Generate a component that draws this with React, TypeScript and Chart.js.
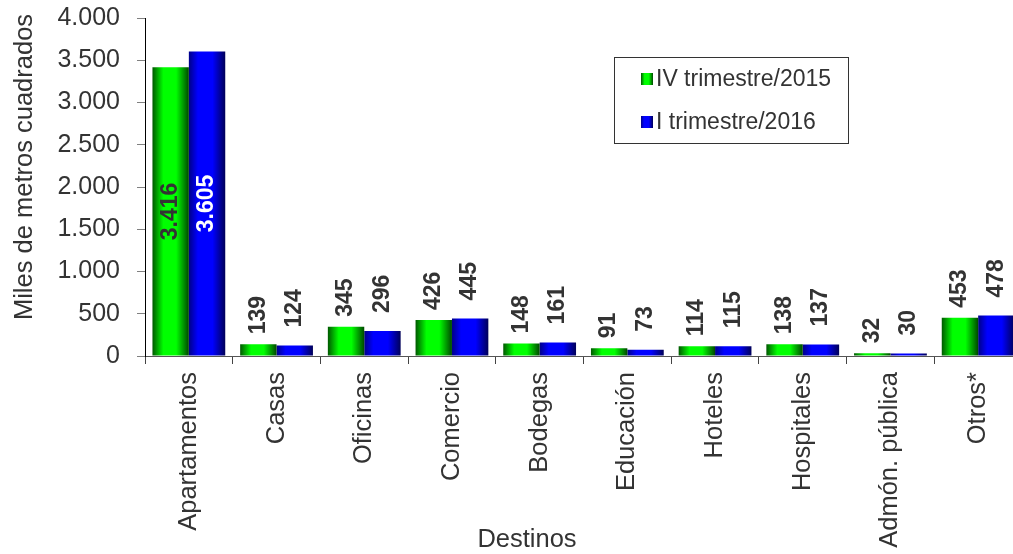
import React, { useEffect, useRef } from 'react';
import { Chart, registerables } from 'chart.js';

Chart.register(...registerables);

const categories = ['Apartamentos', 'Casas', 'Oficinas', 'Comercio', 'Bodegas', 'Educación', 'Hoteles', 'Hospitales', 'Admón. pública', 'Otros*'];
const seriesNames = ['IV trimestre/2015', 'I trimestre/2016'];
const q4_2015 = [3416, 139, 345, 426, 148, 91, 114, 138, 32, 453];
const q1_2016 = [3605, 124, 296, 445, 161, 73, 115, 137, 30, 478];
const yMin = 0;
const yMax = 4000;
const yStep = 500;
const xTitle = 'Destinos';
const yTitle = 'Miles de metros cuadrados';

const FONT = '"Liberation Sans", Arial, sans-serif';
const TEXT = '#333333';

const gradientStops: [number, string][][] = [
  [[0, '#005800'], [0.3, '#00ff00'], [0.65, '#00ff00'], [1, '#004800']],
  [[0, '#000088'], [0.25, '#0000ff'], [0.65, '#0000ff'], [1, '#000058']],
];
const baseColors = ['#00e000', '#0000e0'];
const labelGap = [10, 18];
const insideLabelColors = ['#333333', '#ffffff'];

const fmt = (v: number) => String(v).replace(/\B(?=(\d{3})+(?!\d))/g, '.');

function makeGrad(ctx: CanvasRenderingContext2D, x0: number, x1: number, ds: number) {
  const g = ctx.createLinearGradient(x0, 0, x1, 0);
  gradientStops[ds].forEach(([o, c]) => g.addColorStop(o, c));
  return g;
}

const gradientPlugin = {
  id: 'barGradient',
  beforeDatasetsDraw(chart: any) {
    const ctx = chart.ctx;
    chart.data.datasets.forEach((_: any, di: number) => {
      const meta = chart.getDatasetMeta(di);
      meta.data.forEach((el: any) => {
        const w = el.width;
        el.options.backgroundColor = makeGrad(ctx, el.x - w / 2, el.x + w / 2, di);
      });
    });
  },
};

const labelPlugin = {
  id: 'barLabels',
  afterDatasetsDraw(chart: any) {
    const ctx = chart.ctx;
    ctx.save();
    ctx.font = `bold 23px ${FONT}`;
    chart.data.datasets.forEach((ds: any, di: number) => {
      const meta = chart.getDatasetMeta(di);
      meta.data.forEach((el: any, i: number) => {
        const v = ds.data[i];
        const txt = fmt(v);
        ctx.save();
        if (v > yMax / 2) {
          ctx.translate(el.x, (el.y + el.base) / 2);
          ctx.rotate(-Math.PI / 2);
          ctx.textAlign = 'center';
          ctx.textBaseline = 'middle';
          ctx.fillStyle = insideLabelColors[di];
        } else {
          ctx.translate(el.x, el.y - labelGap[di]);
          ctx.rotate(-Math.PI / 2);
          ctx.textAlign = 'left';
          ctx.textBaseline = 'middle';
          ctx.fillStyle = TEXT;
        }
        ctx.fillText(txt, 0, 0);
        ctx.restore();
      });
    });
    ctx.restore();
  },
};

const decorPlugin = {
  id: 'decor',
  afterDraw(chart: any) {
    const ctx = chart.ctx;
    ctx.save();
    // Axis titles
    ctx.fillStyle = TEXT;
    ctx.font = `25.5px ${FONT}`;
    ctx.textAlign = 'center';
    ctx.textBaseline = 'alphabetic';
    ctx.fillText(xTitle, 527, 547);
    ctx.save();
    ctx.translate(32, 167);
    ctx.rotate(-Math.PI / 2);
    ctx.fillText(yTitle, 0, 0);
    ctx.restore();

    // Legend
    ctx.fillStyle = '#ffffff';
    ctx.fillRect(614.5, 57.5, 234, 86);
    ctx.strokeStyle = '#333333';
    ctx.lineWidth = 1;
    ctx.strokeRect(614.5, 57.5, 234, 86);
    const rows = [86, 129];
    seriesNames.forEach((name, i) => {
      const y = rows[i];
      ctx.fillStyle = makeGrad(ctx, 641, 653, i);
      ctx.fillRect(641, y - 13, 12, 12);
      ctx.fillStyle = TEXT;
      ctx.font = `23px ${FONT}`;
      ctx.textAlign = 'left';
      ctx.textBaseline = 'alphabetic';
      ctx.fillText(name, 656, y);
    });
    ctx.restore();
  },
};

export default function App() {
  const ref = useRef<HTMLCanvasElement | null>(null);

  useEffect(() => {
    const canvas = ref.current;
    if (!canvas) return;
    const chart = new Chart(canvas, {
      type: 'bar',
      data: {
        labels: categories,
        datasets: [
          {
            label: seriesNames[0],
            data: q4_2015,
            backgroundColor: () => baseColors[0],
            borderWidth: 0,
            categoryPercentage: 0.83,
            barPercentage: 1,
          },
          {
            label: seriesNames[1],
            data: q1_2016,
            backgroundColor: () => baseColors[1],
            borderWidth: 0,
            categoryPercentage: 0.83,
            barPercentage: 1,
          },
        ],
      },
      options: {
        responsive: false,
        maintainAspectRatio: false,
        devicePixelRatio: 1,
        animation: false,
        layout: { padding: { left: 0, right: 18, top: 18, bottom: 0 } },
        plugins: {
          legend: { display: false },
          tooltip: { enabled: false },
          title: { display: false },
        },
        scales: {
          x: {
            type: 'category',
            offset: true,
            grid: {
              display: true,
              drawOnChartArea: false,
              drawTicks: true,
              tickLength: 8,
              color: '#444444',
              offset: true,
            },
            border: { display: true, color: '#555555', width: 1 },
            ticks: {
              autoSkip: false,
              minRotation: 90,
              maxRotation: 90,
              padding: 8,
              color: TEXT,
              font: { family: FONT, size: 25.5 },
            },
            afterFit: (s: any) => {
              s.height = 198;
              s.paddingLeft = 0;
              s.paddingRight = 0;
            },
          },
          y: {
            min: yMin,
            max: yMax,
            grid: {
              display: true,
              drawOnChartArea: false,
              drawTicks: true,
              tickLength: 8,
              color: '#808080',
            },
            border: { display: true, color: '#000000', width: 1 },
            ticks: {
              stepSize: yStep,
              padding: 17,
              color: TEXT,
              font: { family: FONT, size: 25 },
              callback: (v: any) => fmt(Number(v)),
            },
            afterFit: (s: any) => {
              s.width = 145;
              s.paddingTop = 0;
              s.paddingBottom = 0;
            },
          },
        },
      },
      plugins: [gradientPlugin, labelPlugin, decorPlugin],
    } as any);
    return () => chart.destroy();
  }, []);

  return (
    <div style={{ position: 'absolute', left: 0, top: 0, width: 1013, height: 554, overflow: 'hidden', background: '#fff' }}>
      <canvas ref={ref} width={1040} height={554} style={{ display: 'block', width: 1040, height: 554 }} />
    </div>
  );
}
